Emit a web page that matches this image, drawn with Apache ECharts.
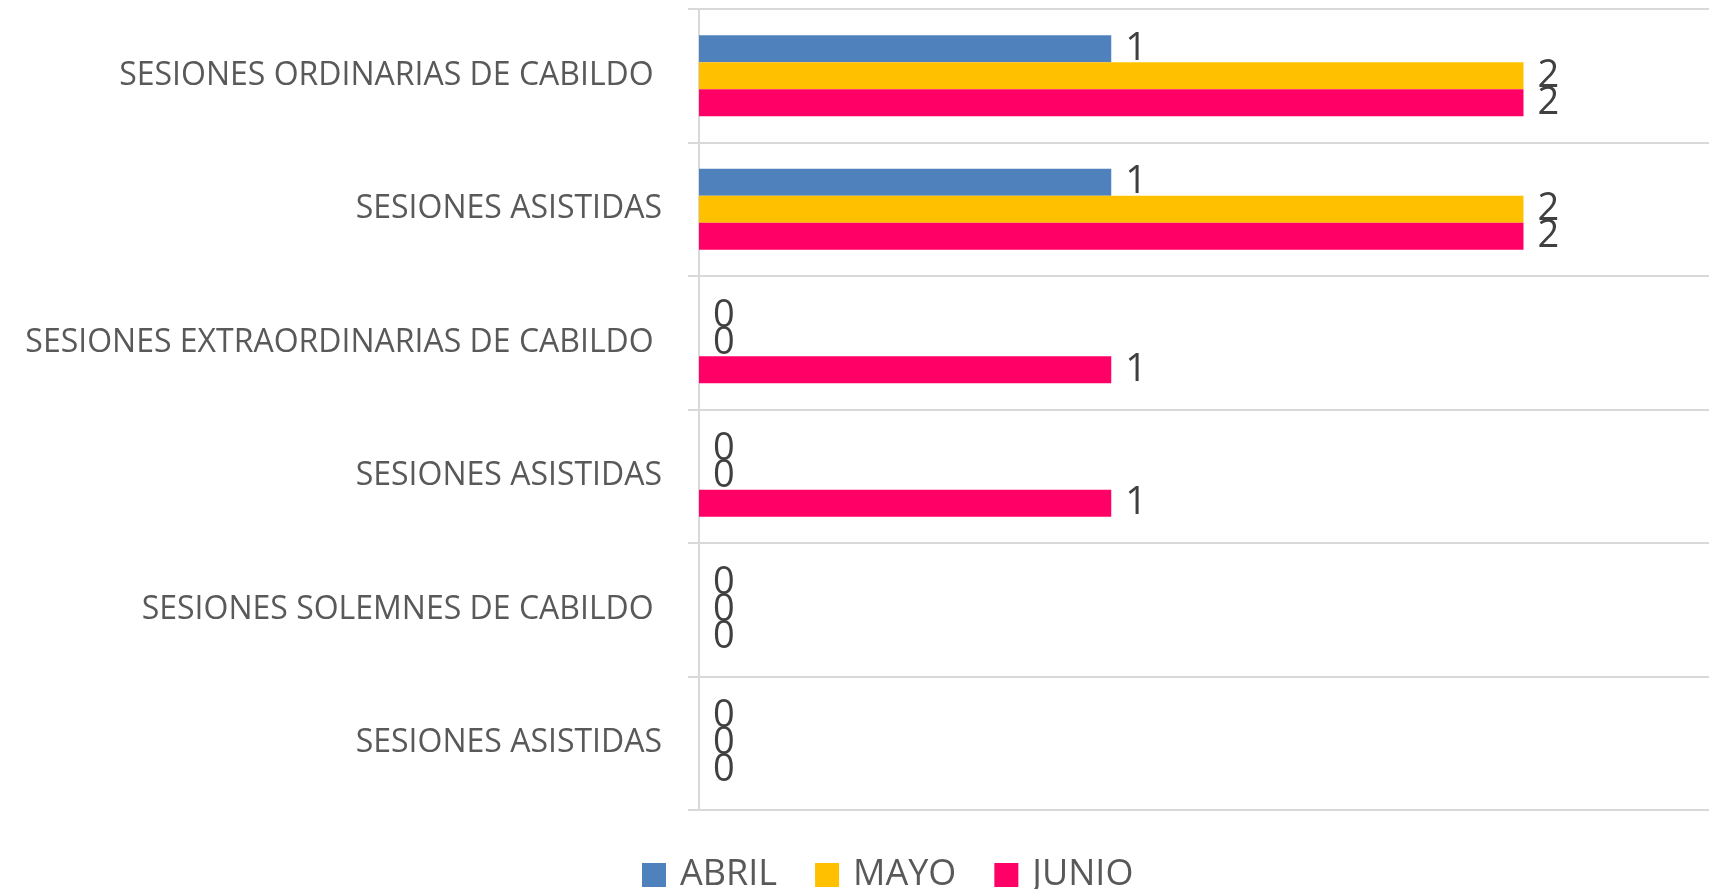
<!DOCTYPE html>
<html>
<head>
<meta charset="utf-8">
<script src="https://cdn.jsdelivr.net/npm/echarts@6/dist/echarts.min.js"></script>
<style>
  html, body { margin: 0; padding: 0; background: #fff; }
  #chart { width: 1709px; height: 889px; }
</style>
</head>
<body>
<div id="chart"></div>
<script>
// categorias (con el espacio final como en el original)
const categories = [
  'SESIONES ORDINARIAS DE CABILDO ',
  'SESIONES ASISTIDAS',
  'SESIONES EXTRAORDINARIAS DE CABILDO ',
  'SESIONES ASISTIDAS',
  'SESIONES SOLEMNES DE CABILDO ',
  'SESIONES ASISTIDAS'
]
const abril = [1, 1, 0, 0, 0, 0]
const mayo = [2, 2, 0, 0, 0, 0]
const junio = [2, 2, 1, 1, 0, 0]

const FONT = 'Open Sans'

const mkSeries = (name, data, color) => ({
  name: name,
  type: 'bar',
  data: data,
  barWidth: 27,
  barGap: 0,
  itemStyle: { color: color },
  label: {
    show: true,
    position: 'right',
    distance: 14,
    color: '#404040',
    fontFamily: FONT,
    fontSize: 38
  },
  animation: false
})

const chart = echarts.init(document.getElementById('chart'))
chart.setOption({
  animation: false,
  grid: { left: 699, right: 0, top: 9, bottom: 79, containLabel: false },
  legend: {
    left: 642,
    top: 857,
    padding: 0,
    icon: 'rect',
    itemWidth: 24,
    itemHeight: 24,
    itemGap: 38,
    textStyle: { color: '#595959', fontFamily: FONT, fontSize: 36, padding: [0, 0, 0, 9] },
    data: ['ABRIL', 'MAYO', 'JUNIO']
  },
  xAxis: {
    type: 'value',
    min: 0,
    max: 2.45,
    show: false,
    splitLine: { show: false }
  },
  yAxis: {
    type: 'category',
    inverse: true,
    data: categories,
    axisLine: { show: true, lineStyle: { color: '#d9d9d9', width: 2 } },
    axisTick: { show: true, length: 11, lineStyle: { color: '#d9d9d9', width: 2 } },
    splitLine: { show: true, lineStyle: { color: '#d9d9d9', width: 2 } },
    axisLabel: { color: '#595959', fontFamily: FONT, fontSize: 32, margin: 37 }
  },
  series: [
    mkSeries('ABRIL', abril, '#4F81BD'),
    mkSeries('MAYO', mayo, '#FFC000'),
    mkSeries('JUNIO', junio, '#FF0066')
  ]
})
</script>
</body>
</html>
